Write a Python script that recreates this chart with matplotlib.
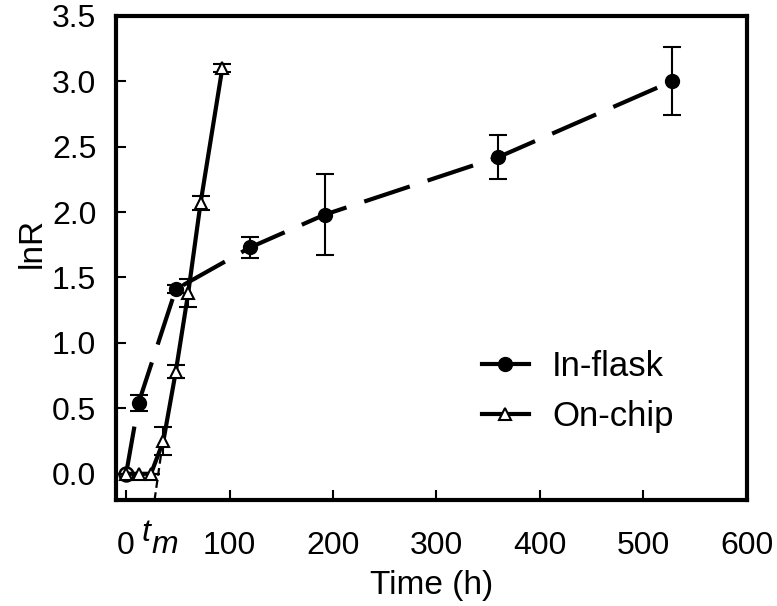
import matplotlib
matplotlib.use("Agg")
import matplotlib.pyplot as plt

plt.rcParams['font.family'] = ['Liberation Sans', 'DejaVu Sans']

# In-flask culture (filled circles, dashed line)
flask_t = [0, 12, 48, 120, 192, 360, 528]
flask_lnR = [0.0, 0.54, 1.41, 1.73, 1.98, 2.42, 3.00]
flask_err = [0.0, 0.06, 0.03, 0.08, 0.31, 0.165, 0.26]

# On-chip culture (open triangles, solid line)
chip_t = [0, 12, 24, 36, 48, 60, 72, 93]
chip_lnR = [0.0, 0.0, 0.0, 0.25, 0.78, 1.38, 2.07, 3.10]
chip_err = [0.0, 0.0, 0.0, 0.105, 0.05, 0.105, 0.055, 0.03]

t_m = 27.5  # lag time, where the on-chip growth line meets the axis

x_ticks = [0, 100, 200, 300, 400, 500, 600]
y_ticks = [0.0, 0.5, 1.0, 1.5, 2.0, 2.5, 3.0, 3.5]

fig, ax = plt.subplots(figsize=(7.77, 6.06), dpi=100)
fig.subplots_adjust(left=0.149, right=0.961, top=0.974, bottom=0.175)

# in-flask
ax.errorbar(flask_t, flask_lnR, yerr=flask_err, fmt='none', ecolor='black',
            elinewidth=1.5, capsize=6.5, capthick=1.5, zorder=2)
ax.plot(flask_t, flask_lnR, color='black', lw=3, dashes=(11.5, 4.5),
        dash_capstyle='butt', zorder=3)
ax.plot(flask_t[1:], flask_lnR[1:], 'o', color='black', ms=10, zorder=4)
ax.plot(flask_t[:1], flask_lnR[:1], 'o', mfc='white', mec='black', mew=1.8,
        ms=10, zorder=4)

# on-chip
ax.errorbar(chip_t, chip_lnR, yerr=chip_err, fmt='none', ecolor='black',
            elinewidth=1.5, capsize=6.5, capthick=1.5, zorder=5)
ax.plot(chip_t, chip_lnR, color='black', lw=3, zorder=5)
ax.plot(chip_t, chip_lnR, '^', mfc='white', mec='black', mew=1.5, ms=9,
        zorder=6)

# extrapolation of the growth line down to t_m
ax.plot([t_m, 34], [-0.2, 0.16], color='black', lw=1.6,
        dashes=(3.5, 2), zorder=2)

# legend proxies (solid short lines)
h1, = ax.plot([], [], color='black', lw=3, marker='o', ms=10,
              label='In-flask')
h2, = ax.plot([], [], color='black', lw=3, marker='^', mfc='white',
              mec='black', mew=1.5, ms=9, label='On-chip')
ax.legend(handles=[h1, h2], loc='upper left', bbox_to_anchor=(0.58, 0.31),
          frameon=False, fontsize=25, handlelength=1.35, handletextpad=0.68,
          labelspacing=0.5, borderpad=0, borderaxespad=0)

ax.set_xlim(-10, 600)
ax.set_ylim(-0.2, 3.5)
ax.set_xticks(x_ticks)
ax.set_yticks(y_ticks)
ax.set_yticklabels([f"{v:.1f}" for v in y_ticks])
ax.tick_params(direction='in', length=7, width=1.5, labelsize=23)
ax.tick_params(axis='x', pad=22)
ax.tick_params(axis='y', pad=14)

for s in ax.spines.values():
    s.set_linewidth(3)

# t_m label under the axis
ax.annotate('t', xy=(t_m, 0), xycoords=('data', 'axes fraction'),
            xytext=(-6.5, -29.5), textcoords='offset points', ha='center',
            va='baseline', fontsize=23, fontstyle='italic')
ax.annotate('m', xy=(t_m, 0), xycoords=('data', 'axes fraction'),
            xytext=(7, -38.5), textcoords='offset points', ha='center',
            va='baseline', fontsize=23, fontstyle='italic')

ax.set_xlabel('Time (h)', fontsize=24, labelpad=7)
ax.set_ylabel('lnR', fontsize=24)
ax.yaxis.set_label_coords(-0.108, 0.53)

fig.savefig('out.png', dpi=100)
